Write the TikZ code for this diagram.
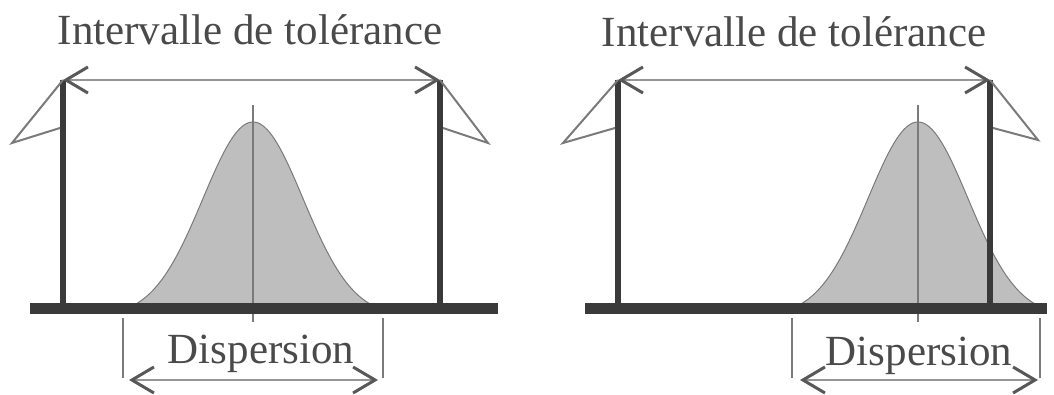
\documentclass[tikz,border=0pt]{standalone}
\usepackage{fontspec}
\setmainfont{Liberation Serif}
\usetikzlibrary{arrows.meta}
\definecolor{TolDark}{HTML}{3A3A3A}
\definecolor{TolGrey}{HTML}{7A7A7A}
\definecolor{TolText}{HTML}{4A4A4A}
\definecolor{TolFill}{HTML}{BEBEBE}
\tikzset{
  label/.style={
    text=TolText,
    font=\fontsize{43}{50}\selectfont,
    inner sep=0pt,
    anchor=base
  },
  limitbar/.style={draw=TolDark,line width=5.5pt},
  groundline/.style={draw=TolDark,line width=11pt},
  thinline/.style={draw=TolGrey,line width=1.2pt},
  flag/.style={draw=TolGrey,line width=2pt,line join=miter},
  dimarrow/.style={
    draw=TolGrey!80,
    line width=1.5pt,
    {Straight Barb[length=22pt,width=26pt,line width=3pt,color=TolDark!85]}-{Straight Barb[length=22pt,width=26pt,line width=3pt,color=TolDark!85]}
  },
  gaussfill/.style={fill=TolFill,draw=TolGrey,line width=1pt}
}
\begin{document}
\begin{tikzpicture}[x=1pt,y=1pt]
  \useasboundingbox (0,0) rectangle (1054,394);

  % left panel: dispersion centred in the tolerance interval
  \fill[gaussfill] plot[domain=-125:125,samples=80]
    ({253+\x},{86+194.6*(exp(-\x*\x/5000)-0.044)});
  \coordinate (ctopA) at (253,289);
  \coordinate (cbotA) at (253,72);
  \draw[thinline] (ctopA) -- (cbotA);

  \coordinate (basLA) at (30,86);
  \coordinate (basRA) at (498,86);
  \draw[groundline] (basLA) -- (basRA);

  \coordinate (minA) at (63,314);
  \coordinate (minfootA) at (63,86);
  \coordinate (maxA) at (440,314);
  \coordinate (maxfootA) at (440,86);
  \draw[limitbar] (minA) -- (minfootA);
  \draw[limitbar] (maxA) -- (maxfootA);

  \coordinate (mintipA) at (12,251);
  \coordinate (minbackA) at (60,266);
  \coordinate (maxtipA) at (488,251);
  \coordinate (maxbackA) at (443,266);
  \draw[flag] (minA) -- (mintipA) -- (minbackA);
  \draw[flag] (maxA) -- (maxtipA) -- (maxbackA);

  \draw[dimarrow] (minA) -- (maxA);
  \node[label] (tolA) at (250,349) {Intervalle de tolérance};

  \coordinate (dlA) at (123,76);
  \coordinate (dlbotA) at (123,16);
  \coordinate (drA) at (383,76);
  \coordinate (drbotA) at (383,16);
  \draw[thinline] (dlA) -- (dlbotA);
  \draw[thinline] (drA) -- (drbotA);
  \coordinate (dispLA) at (129,14);
  \coordinate (dispRA) at (378,14);
  \draw[dimarrow] (dispLA) -- (dispRA);
  \node[label] (dispA) at (261,31) {Dispersion};

  % right panel: dispersion shifted past the upper limit
  \fill[gaussfill] plot[domain=-125:125,samples=80]
    ({918+\x},{86+194.6*(exp(-\x*\x/5000)-0.044)});
  \coordinate (ctopB) at (918,289);
  \coordinate (cbotB) at (918,72);
  \draw[thinline] (ctopB) -- (cbotB);

  \coordinate (basLB) at (585,86);
  \coordinate (basRB) at (1047,86);
  \draw[groundline] (basLB) -- (basRB);

  \coordinate (minB) at (618,314);
  \coordinate (minfootB) at (618,86);
  \coordinate (maxB) at (990,314);
  \coordinate (maxfootB) at (990,86);
  \draw[limitbar] (minB) -- (minfootB);
  \draw[limitbar] (maxB) -- (maxfootB);

  \coordinate (mintipB) at (563,251);
  \coordinate (minbackB) at (615,266);
  \coordinate (maxtipB) at (1038,254);
  \coordinate (maxbackB) at (993,266);
  \draw[flag] (minB) -- (mintipB) -- (minbackB);
  \draw[flag] (maxB) -- (maxtipB) -- (maxbackB);

  \draw[dimarrow] (minB) -- (maxB);
  \node[label] (tolB) at (794,347) {Intervalle de tolérance};

  \coordinate (dlB) at (792,76);
  \coordinate (dlbotB) at (792,16);
  \coordinate (drB) at (1040,76);
  \coordinate (drbotB) at (1040,16);
  \draw[thinline] (dlB) -- (dlbotB);
  \draw[thinline] (drB) -- (drbotB);
  \coordinate (dispLB) at (800,14);
  \coordinate (dispRB) at (1038,14);
  \draw[dimarrow] (dispLB) -- (dispRB);
  \node[label] (dispB) at (919,29) {Dispersion};
\end{tikzpicture}
\end{document}
